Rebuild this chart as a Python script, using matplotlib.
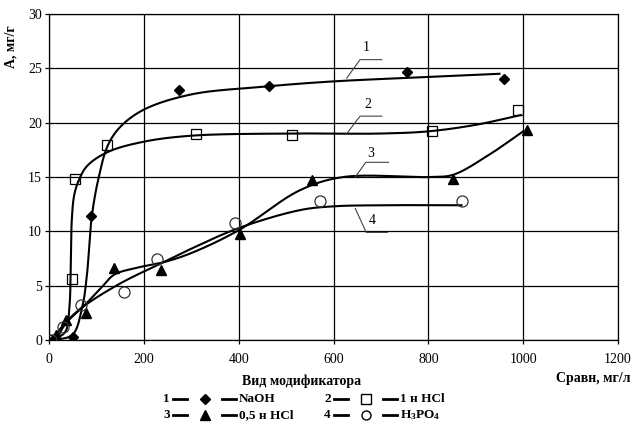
import numpy as np
import matplotlib
matplotlib.use("Agg")
import matplotlib.pyplot as plt
from matplotlib.lines import Line2D

plt.rcParams["font.family"] = ["Liberation Serif", "DejaVu Serif"]
plt.rcParams["mathtext.fontset"] = "custom"
plt.rcParams["mathtext.rm"] = "Liberation Serif:bold"
plt.rcParams["mathtext.it"] = "Liberation Serif:bold"

# measured points
naoh_x = [10, 50, 88, 275, 465, 755, 960]
naoh_y = [0.1, 0.3, 11.4, 23.0, 23.4, 24.7, 24.0]
hcl1_x = [5, 48, 55, 122, 310, 512, 808, 990]
hcl1_y = [0.0, 5.6, 14.8, 17.9, 19.0, 18.9, 19.2, 21.2]
hcl05_x = [15, 35, 79, 137, 237, 402, 555, 852, 1008]
hcl05_y = [0.5, 1.8, 2.5, 6.6, 6.4, 9.8, 14.7, 14.8, 19.3]
h3po4_x = [5, 30, 68, 158, 228, 393, 572, 872]
h3po4_y = [0.0, 1.2, 3.2, 4.4, 7.5, 10.8, 12.8, 12.8]

# smoothed trend curves (knots)
fit1_x = [15, 50, 70, 80, 90, 105, 124, 150, 200, 300, 450, 600, 800, 950]
fit1_y = [0.0, 0.5, 3.0, 6.0, 11.3, 15.0, 17.9, 19.6, 21.2, 22.6, 23.3, 23.8, 24.2, 24.5]
fit2_x = [12, 35, 43, 46, 48, 53, 62, 80, 124, 200, 300, 500, 700, 800, 900, 995]
fit2_y = [0.0, 0.8, 3.0, 7.0, 11.0, 13.3, 14.6, 16.0, 17.3, 18.25, 18.8, 19.0, 19.0, 19.2, 19.8, 20.7]
fit3_x = [15, 35, 75, 110, 137, 180, 241, 300, 400, 530, 621, 804, 852, 923, 1000]
fit3_y = [0.0, 1.5, 3.2, 4.8, 6.0, 6.6, 7.15, 8.0, 10.1, 13.8, 15.0, 15.0, 15.2, 16.9, 19.2]
fit4_x = [5, 35, 70, 150, 241, 300, 400, 530, 600, 700, 870]
fit4_y = [0.0, 1.6, 3.0, 5.2, 7.15, 8.4, 10.3, 11.96, 12.3, 12.4, 12.4]

names = ["NaOH", "1 н HCl", "0,5 н HCl", "H$_3$PO$_4$"]


def smooth(xs, ys, n=40):
    # centripetal catmull-rom, done in roughly pixel space
    sx, sy = 569 / 1200, 326 / 30
    P = np.column_stack([np.array(xs) * sx, np.array(ys) * sy])
    P = np.vstack([2 * P[0] - P[1], P, 2 * P[-1] - P[-2]])
    out = []
    for i in range(1, len(P) - 2):
        p0, p1, p2, p3 = P[i - 1], P[i], P[i + 1], P[i + 2]
        t0 = 0.0
        t1 = t0 + max(np.linalg.norm(p1 - p0), 1e-6) ** 0.5
        t2 = t1 + max(np.linalg.norm(p2 - p1), 1e-6) ** 0.5
        t3 = t2 + max(np.linalg.norm(p3 - p2), 1e-6) ** 0.5
        t = np.linspace(t1, t2, n)[:, None]
        a1 = (t1 - t) / (t1 - t0) * p0 + (t - t0) / (t1 - t0) * p1
        a2 = (t2 - t) / (t2 - t1) * p1 + (t - t1) / (t2 - t1) * p2
        a3 = (t3 - t) / (t3 - t2) * p2 + (t - t2) / (t3 - t2) * p3
        b1 = (t2 - t) / (t2 - t0) * a1 + (t - t0) / (t2 - t0) * a2
        b2 = (t3 - t) / (t3 - t1) * a2 + (t - t1) / (t3 - t1) * a3
        c = (t2 - t) / (t2 - t1) * b1 + (t - t1) / (t2 - t1) * b2
        out.append(c)
    out = np.vstack(out)
    return out[:, 0] / sx, out[:, 1] / sy


fig = plt.figure(figsize=(6.31, 4.23), dpi=100)
ax = fig.add_axes([49 / 631, 1 - 340 / 423, 569 / 631, 326 / 423])

for fx, fy in [(fit1_x, fit1_y), (fit2_x, fit2_y), (fit3_x, fit3_y), (fit4_x, fit4_y)]:
    cx, cy = smooth(fx, fy)
    ax.plot(cx, cy, color="black", lw=1.5, zorder=3)

ax.plot(naoh_x, naoh_y, "D", color="black", ms=5, ls="none", zorder=4)
ax.plot(hcl1_x, hcl1_y, "s", mfc="none", mec="black", mew=0.9, ms=7.5, ls="none", zorder=4)
ax.plot(hcl05_x, hcl05_y, "^", color="black", ms=7.5, ls="none", zorder=4)
ax.plot(h3po4_x, h3po4_y, "o", mfc="none", mec="#333333", mew=0.9, ms=8, ls="none", zorder=4)

# curve numbers with leader lines
leaders = [
    ("1", (628, 24.1), (656, 25.8), (702, 25.8), (670, 26.9)),
    ("2", (628, 19.0), (656, 20.6), (702, 20.6), (672, 21.7)),
    ("3", (646, 15.0), (668, 16.35), (716, 16.35), (679, 17.2)),
    ("4", (646, 12.1), (669, 9.9), (714, 9.9), (681, 11.0)),
]
for lab, a, b, c, t in leaders:
    ax.plot([a[0], b[0], c[0]], [a[1], b[1], c[1]], color="#444444", lw=0.8, zorder=3)
    ax.text(t[0], t[1], lab, fontsize=10, ha="center", va="center")

ax.set_xlim(0, 1200)
ax.set_ylim(0, 30)
ax.set_xticks(range(0, 1201, 200))
ax.set_yticks(range(0, 31, 5))
ax.grid(True, color="black", lw=0.9)
ax.set_axisbelow(True)
for s in ax.spines.values():
    s.set_color("black")
    s.set_linewidth(0.9)
ax.tick_params(axis="x", direction="out", length=3, width=0.9, pad=6, labelsize=10)
ax.tick_params(axis="y", direction="out", length=3, width=0.9, pad=2, labelsize=10)

ax.set_ylabel("А, мг/г", fontsize=10, fontweight="bold")
ax.yaxis.set_label_coords(-0.055, 0.9)

fig.text(630 / 631, 1 - 378 / 423, "Сравн, мг/л", ha="right", va="center",
         fontsize=10, fontweight="bold")
fig.text(302 / 631, 1 - 381 / 423, "Вид модификатора", ha="center", va="center",
         fontsize=10, fontweight="bold")


# legend drawn by hand: number, dash, marker, dash, name
def px(x, y):
    return x / 631, 1 - y / 423


legend_rows = [
    ("1", "D", dict(color="black", ms=5), names[0], 170, 399),
    ("2", "s", dict(mfc="none", mec="black", ms=6.5), names[1], 331, 399),
    ("3", "^", dict(color="black", ms=7), names[2], 170, 415),
    ("4", "o", dict(mfc="none", mec="black", ms=6.5), names[3], 331, 415),
]
for num, mk, kw, name, x0, y0 in legend_rows:
    fig.text(*px(x0, y0), num, ha="right", va="center", fontsize=9.5, fontweight="bold")
    for a, b in [(x0 + 3, x0 + 17), (x0 + 52, x0 + 66)]:
        fig.add_artist(Line2D([a / 631, b / 631], [1 - y0 / 423] * 2, color="black",
                              lw=2, transform=fig.transFigure))
    fig.add_artist(Line2D([(x0 + 35) / 631], [1 - y0 / 423], marker=mk, ls="none",
                          transform=fig.transFigure, **kw))
    fig.text(*px(x0 + 69, y0), name, ha="left", va="center", fontsize=9.5,
             fontweight="bold")

fig.savefig("out.png", dpi=100)
